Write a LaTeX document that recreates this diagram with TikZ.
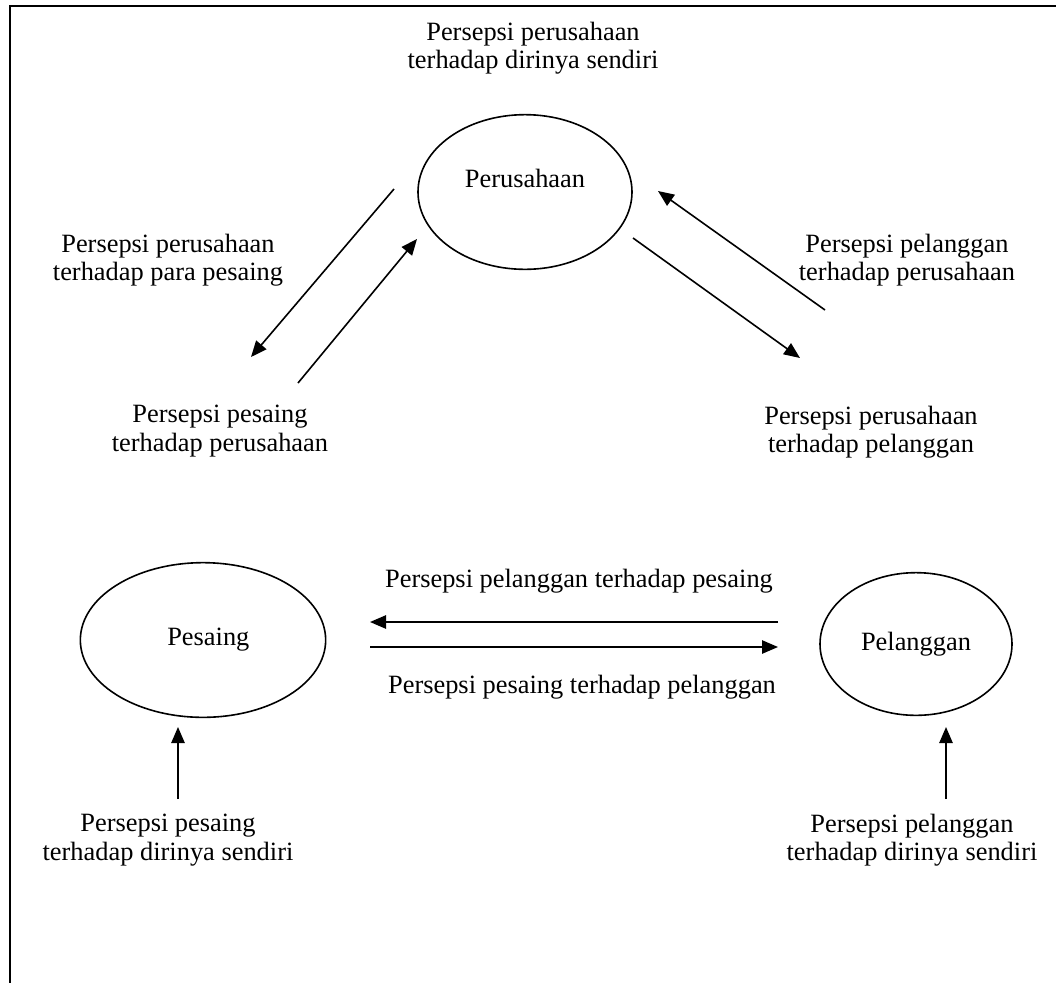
\documentclass[tikz,border=0pt]{standalone}
\usepackage{fontspec}
\setmainfont{Liberation Serif}
\usetikzlibrary{arrows.meta,shapes.geometric}

\begin{document}
\begin{tikzpicture}[x=0.75pt,y=-0.75pt,
  every node/.style={font=\fontsize{19.8}{21.2}\selectfont},
  party/.style={draw,ellipse,line width=1.2pt,inner sep=0pt},
  caption/.style={align=center,inner sep=0pt},
  view/.style={line width=1.2pt,-{Triangle[length=12pt,width=10pt]}}]
  \useasboundingbox (0,0) rectangle (1056,983);
  % frame, cut off at right and bottom
  \draw[line width=1.6pt] (1056,6) -- (10,6) -- (10,983);

  % the three parties
  \node[party,minimum width=160.5pt,minimum height=116pt,
        label={[yshift=10pt]center:Perusahaan}] (perusahaan) at (525,192) {};
  \node[party,minimum width=184pt,minimum height=116pt] (pesaing) at (203,640) {\hspace{8pt}Pesaing};
  \node[party,minimum width=144pt,minimum height=107pt] (pelanggan) at (916,644) {Pelanggan};

  % captions
  \node[caption] (selfcomp)  at (533,48)  {Persepsi perusahaan\\terhadap dirinya sendiri};
  \node[caption] (comprival) at (168,260) {Persepsi perusahaan\\terhadap para pesaing};
  \node[caption] (custcomp)  at (907,260) {Persepsi pelanggan\\terhadap perusahaan};
  \node[caption] (rivalcomp) at (220,431) {Persepsi pesaing\\terhadap perusahaan};
  \node[caption] (compcust)  at (871,432) {Persepsi perusahaan\\terhadap pelanggan};
  \node[caption] (custrival) at (579,581) {Persepsi pelanggan terhadap pesaing};
  \node[caption] (rivalcust) at (582,687) {Persepsi pesaing terhadap pelanggan};
  \node[caption] (selfrival) at (168,840) {Persepsi pesaing\\terhadap dirinya sendiri};
  \node[caption] (selfcust)  at (912,840) {Persepsi pelanggan\\terhadap dirinya sendiri};

  % free arrow ends
  \coordinate (a1) at (394,189); \coordinate (b1) at (251,357);
  \coordinate (a2) at (298,383); \coordinate (b2) at (417,239);
  \coordinate (a3) at (825,310); \coordinate (b3) at (658,191);
  \coordinate (a4) at (633,238); \coordinate (b4) at (800,358);
  \coordinate (a5) at (778,622); \coordinate (b5) at (370,622);
  \coordinate (a6) at (370,647); \coordinate (b6) at (778,647);
  \coordinate (a7) at (178,799); \coordinate (b7) at (178,727);
  \coordinate (a8) at (946,799); \coordinate (b8) at (946,727);

  \foreach \i in {1,...,8}
    \draw[view] (a\i) -- (b\i);
\end{tikzpicture}
\end{document}
